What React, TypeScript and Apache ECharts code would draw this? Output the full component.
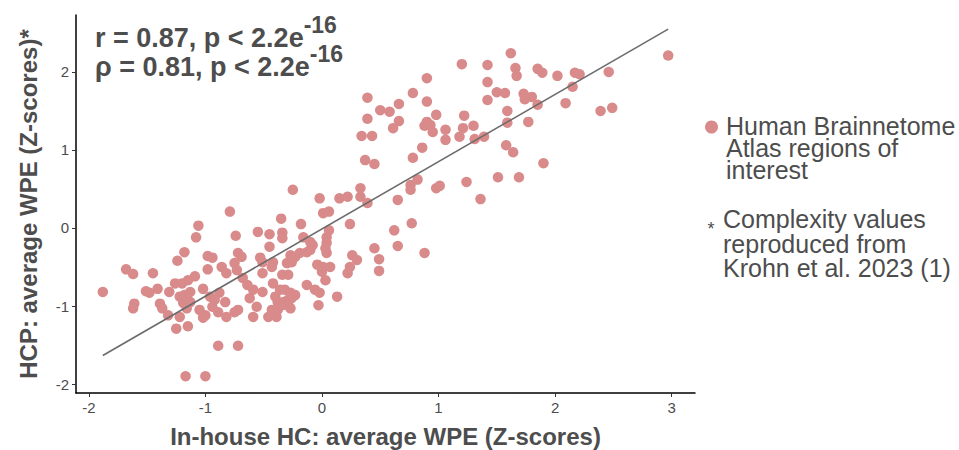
import React, { useEffect, useRef } from 'react';
import * as echarts from 'echarts';

// In-house HC: average WPE (Z-scores)
const hcInHouse = [
  -1.08, -1.18, -1.24, -0.98, -0.94, -1.68, -1.62, -1.45, -0.98, -0.86,
  -0.82, -1.09, -1.15, -1.26, -1.2, -1.88, -1.51, -1.41, -1.31, -1.48,
  -1.02, -0.96, -1.22, -1.18, -1.13, -0.88, -0.83, -1.61, -1.62, -1.39,
  -1.37, -1.19, -1.16, -1.13, -1.32, -1.22, -1.05, -1.0, -1.02, -0.94,
  -0.89, -0.92, -0.82, -1.25, -1.15, -0.89, -0.74, -0.55, -0.45, -0.34,
  -0.34, -0.16, -0.1, -0.08, 0.04, 0.04, -0.45, 0.04, 0.03, 0.26,
  0.3, -0.72, -0.69, -0.75, -0.73, -0.53, -0.51, -0.42, -0.43, -0.27,
  -0.23, -0.19, -0.13, -0.1, -0.3, -0.26, -0.34, -0.29, -0.51, -0.04,
  0.01, 0.07, 0.0, 0.24, 0.22, -0.68, -0.64, -0.59, -0.51, -0.42,
  -0.36, -0.32, -0.27, -0.23, -0.13, -0.06, -0.02, 0.03, -0.4, -0.38,
  -0.33, -0.29, -0.26, 0.13, -0.62, -0.56, -0.75, -0.72, -0.59, -0.46,
  -0.39, -0.43, -0.38, -0.34, -0.29, -0.27, -0.03, -0.72, -1.17, -1.0,
  -0.25, -0.79, -1.06, -0.35, -0.18, -0.02, 0.15, 0.22, 0.33, 0.33,
  0.01, 0.06, 0.06, 0.24, 0.39, 0.76, 0.76, 0.82, 0.98, 1.01,
  1.24, 1.36, 0.65, 1.51, 1.69, 0.62, 0.77, 0.65, 0.88, 0.45,
  0.49, 0.49, 1.62, 1.2, 1.42, 1.66, 1.67, 0.9, 1.42, 0.39,
  0.78, 0.9, 1.42, 1.5, 1.57, 0.5, 0.58, 0.66, 0.66, 0.61,
  0.39, 0.34, 0.43, 0.98, 0.9, 0.88, 0.93, 0.95, 1.06, 1.06,
  1.22, 1.21, 1.3, 1.18, 1.31, 1.39, 1.59, 1.59, 0.86, 0.78,
  1.58, 1.64, 0.37, 0.45, 2.97, 1.85, 1.89, 2.02, 2.17, 2.21,
  2.46, 2.15, 1.73, 1.74, 1.8, 1.85, 2.09, 2.39, 2.49, 1.77,
  1.9,
];

// HCP: average WPE (Z-scores)
const hcpWpe = [
  -0.12, -0.31, -0.42, -0.36, -0.38, -0.53, -0.59, -0.58, -0.53, -0.5,
  -0.58, -0.62, -0.67, -0.71, -0.71, -0.82, -0.81, -0.78, -0.82, -0.83,
  -0.78, -0.88, -0.88, -0.86, -0.82, -0.83, -0.95, -0.97, -1.03, -0.97,
  -1.03, -0.96, -1.03, -0.95, -1.12, -1.14, -1.05, -1.12, -1.15, -1.01,
  -1.08, -0.92, -1.14, -1.29, -1.26, -1.51, -0.1, -0.05, -0.08, -0.06,
  -0.13, -0.12, -0.18, -0.22, -0.12, -0.19, -0.24, -0.32, -0.26, -0.35,
  -0.41, -0.32, -0.37, -0.45, -0.54, -0.38, -0.44, -0.44, -0.5, -0.35,
  -0.37, -0.32, -0.31, -0.28, -0.45, -0.44, -0.6, -0.6, -0.58, -0.47,
  -0.5, -0.5, -0.56, -0.5, -0.58, -0.64, -0.73, -0.79, -0.82, -0.71,
  -0.79, -0.79, -0.83, -0.86, -0.73, -0.79, -0.83, -0.67, -0.88, -0.95,
  -0.95, -0.92, -0.9, -0.88, -0.9, -1.01, -1.08, -1.05, -1.14, -1.14,
  -1.14, -1.05, -1.05, -0.99, -0.99, -1.03, -0.99, -1.51, -1.9, -1.9,
  0.49, 0.21, 0.03, 0.12, 0.05, 0.38, 0.38, 0.4, 0.51, 0.4,
  0.19, 0.21, -0.03, 0.05, 0.32, 0.55, 0.49, 0.62, 0.51, 0.54,
  0.59, 0.37, 0.36, 0.65, 0.65, -0.03, 0.06, -0.23, -0.32, -0.26,
  -0.4, -0.55, 2.24, 2.1, 2.09, 2.05, 1.95, 1.92, 1.87, 1.67,
  1.73, 1.62, 1.64, 1.74, 1.73, 1.51, 1.49, 1.59, 1.37, 1.28,
  1.4, 1.18, 1.18, 1.45, 1.36, 1.31, 1.32, 1.23, 1.26, 1.13,
  1.44, 1.28, 1.31, 1.17, 1.14, 1.17, 1.5, 1.35, 1.03, 0.9,
  1.06, 0.97, 0.87, 0.82, 2.21, 2.04, 1.99, 1.95, 1.99, 1.97,
  2.0, 1.81, 1.72, 1.65, 1.68, 1.58, 1.6, 1.5, 1.54, 1.36,
  0.83,
];

const xTicks = [-2, -1, 0, 1, 2, 3];
const yTicks = [-2, -1, 0, 1, 2];
const xRange = [-2.11, 3.2];
const yRange = [-2.115, 2.73];

const statMain = ['r = 0.87, p < 2.2e', 'ρ = 0.81, p < 2.2e'];
const statSup = ['-16', '-16'];

const legendPointText = ['Human Brainnetome', 'Atlas regions of', 'interest'];
const legendNoteText = ['Complexity values', 'reproduced from', 'Krohn et al. 2023 (1)'];

const xTitle = 'In-house HC: average WPE (Z-scores)';
const yTitle = 'HCP: average WPE (Z-scores)*';
const seriesName = 'Human Brainnetome Atlas regions of interest';

const POINT_COLOR = '#D98A8A';
const TEXT_COLOR = '#4d4d4d';
const FONT = '"Liberation Sans", Arial, Helvetica, sans-serif';

function linearFit(xs: number[], ys: number[]) {
  const n = xs.length;
  let sx = 0, sy = 0;
  for (let i = 0; i < n; i++) { sx += xs[i]; sy += ys[i]; }
  const mx = sx / n, my = sy / n;
  let sxy = 0, sxx = 0;
  for (let i = 0; i < n; i++) {
    sxy += (xs[i] - mx) * (ys[i] - my);
    sxx += (xs[i] - mx) * (xs[i] - mx);
  }
  const slope = sxy / sxx;
  return { slope, intercept: my - slope * mx };
}

export default function App() {
  const ref = useRef<HTMLDivElement>(null);

  useEffect(() => {
    if (!ref.current) return;
    const chart = echarts.init(ref.current, null, { renderer: 'svg' });
    const points = hcInHouse.map((x, i) => [x, hcpWpe[i]]);
    const { slope, intercept } = linearFit(hcInHouse, hcpWpe);
    const minX = Math.min(...hcInHouse);
    const maxX = Math.max(...hcInHouse);
    const fitLine = [
      [minX, intercept + slope * minX],
      [maxX, intercept + slope * maxX],
    ];

    const statTexts = statMain.map((m, i) => ({
      type: 'text',
      x: 95,
      y: 13 + i * 29,
      silent: true,
      style: {
        text: `{m|${m}}{s|${statSup[i]}}`,
        verticalAlign: 'top',
        align: 'left',
        rich: {
          m: { fontSize: 27, fontWeight: 'bold', fontFamily: FONT, fill: TEXT_COLOR, color: TEXT_COLOR, lineHeight: 50, verticalAlign: 'middle' },
          s: { fontSize: 23, fontWeight: 'bold', fontFamily: FONT, fill: TEXT_COLOR, color: TEXT_COLOR, lineHeight: 23, verticalAlign: 'top' },
        },
      },
    }));

    chart.setOption({
      animation: false,
      backgroundColor: '#ffffff',
      grid: { left: 76, right: 264, top: 15, bottom: 57, outerBoundsMode: 'none' },
      xAxis: {
        type: 'value',
        min: xRange[0],
        max: xRange[1],
        name: xTitle,
        nameLocation: 'middle',
        nameGap: 31,
        nameTextStyle: { fontSize: 24, fontWeight: 'bold', color: TEXT_COLOR, fontFamily: FONT },
        axisLine: { show: true, onZero: false, lineStyle: { color: '#000', width: 1.5 } },
        axisTick: { show: true, length: 4, customValues: xTicks, lineStyle: { color: '#333', width: 1 } },
        axisLabel: { customValues: xTicks, margin: 7, color: TEXT_COLOR, fontSize: 15, fontFamily: FONT, formatter: (v: number) => String(v) },
        splitLine: { show: false },
      },
      yAxis: {
        type: 'value',
        min: yRange[0],
        max: yRange[1],
        name: yTitle,
        nameLocation: 'middle',
        nameGap: 36,
        nameTextStyle: { fontSize: 24, fontWeight: 'bold', color: TEXT_COLOR, fontFamily: FONT },
        axisLine: { show: true, onZero: false, lineStyle: { color: '#000', width: 1.5 } },
        axisTick: { show: true, length: 4, customValues: yTicks, lineStyle: { color: '#333', width: 1 } },
        axisLabel: { customValues: yTicks, margin: 7, color: TEXT_COLOR, fontSize: 15, fontFamily: FONT, formatter: (v: number) => String(v) },
        splitLine: { show: false },
      },
      series: [
        {
          name: seriesName,
          type: 'scatter',
          data: points,
          symbol: 'circle',
          symbolSize: 10.5,
          itemStyle: { color: POINT_COLOR, opacity: 1 },
          z: 2,
          silent: true,
        },
        {
          name: 'fit',
          type: 'line',
          data: fitLine,
          showSymbol: false,
          symbol: 'none',
          lineStyle: { color: '#6b6b6b', width: 1.6 },
          z: 3,
          silent: true,
        },
      ],
      graphic: [
        ...statTexts,
        {
          type: 'circle',
          shape: { cx: 711.5, cy: 127, r: 6.5 },
          style: { fill: POINT_COLOR },
          silent: true,
        },
        {
          type: 'text',
          x: 726,
          y: 115,
          silent: true,
          style: {
            text: legendPointText.join('\n'),
            fontSize: 25,
            lineHeight: 22,
            fontFamily: FONT,
            fill: TEXT_COLOR,
            align: 'left',
            verticalAlign: 'top',
          },
        },
        {
          type: 'text',
          x: 711,
          y: 229,
          silent: true,
          style: { text: '*', fontSize: 18, fontFamily: FONT, fill: TEXT_COLOR, align: 'center', verticalAlign: 'middle' },
        },
        {
          type: 'text',
          x: 723,
          y: 207,
          silent: true,
          style: {
            text: legendNoteText.join('\n'),
            fontSize: 25,
            lineHeight: 24.5,
            fontFamily: FONT,
            fill: TEXT_COLOR,
            align: 'left',
            verticalAlign: 'top',
          },
        },
      ],
    });
    return () => chart.dispose();
  }, []);

  return (
    <div
      ref={ref}
      style={{ position: 'fixed', left: 0, top: 0, width: '959px', height: '450px', background: '#fff' }}
    />
  );
}
